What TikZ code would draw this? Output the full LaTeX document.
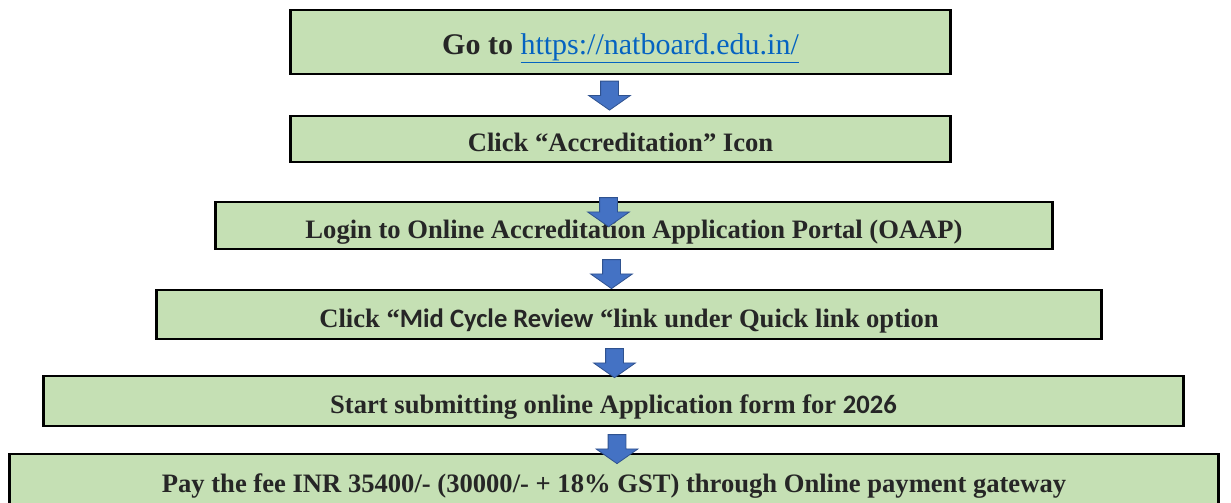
\documentclass[tikz,border=0pt]{standalone}
\usepackage{fontspec}
\setmainfont{Liberation Serif}
\newfontfamily\calib{Carlito}
\usetikzlibrary{shapes.arrows}
\definecolor{boxgreen}{HTML}{C5E0B4}
\definecolor{arrowblue}{HTML}{4472C4}
\definecolor{arrowedge}{HTML}{2F528F}
\definecolor{linkblue}{HTML}{0563C1}
\definecolor{ink}{HTML}{262626}

\begin{document}
\begin{tikzpicture}[x=1pt,y=-1pt,
    stepbox/.style ={rectangle, draw, line width=2.6pt, fill=boxgreen,
      text=ink, font=\fontsize{26.6}{30}\selectfont\bfseries, inner sep=0pt,
      text height=25.5pt, text depth=0pt},
    blockarrow/.style ={single arrow, draw=arrowedge, line width=0.8pt,
      fill=arrowblue, rotate=-90, inner xsep=0pt, inner ysep=8.5pt,
      minimum height=29pt, single arrow head extend=12pt,
      single arrow tip angle=110}]
   \useasboundingbox (0,0) rectangle (1231,503);

   \node[stepbox, minimum width=660, minimum height=64, font=\fontsize{30}{34}\selectfont\bfseries,
     text height=25pt] (go) at (620.5,42) {Go to \textcolor{linkblue}{\mdseries\underline{https://natboard.edu.in/}}};
   \node[stepbox, minimum width=660, minimum height=46] (icon)   at (620.5,139) {Click “Accreditation” Icon};
   \node[stepbox, minimum width=837, minimum height=47] (login)  at (634,225.5) {Login to Online Accreditation Application Portal (OAAP)};
   \node[stepbox, minimum width=945, minimum height=49] (review) at (629,314.5) {Click “{\calib Mid Cycle Review} “link under Quick link option};
   \node[stepbox, minimum width=1140, minimum height=50] (apply) at (613.5,401) {Start submitting online Application form for {\calib 2026}};
   \node[stepbox, minimum width=1209, minimum height=52] (pay)   at (614,480)   {Pay the fee INR 35400/- (30000/- + 18\% GST) through Online payment gateway};

   \node[blockarrow] (toicon)   at (609.5,92.5) {};
   \node[blockarrow] (tologin)  at (608.5,209)  {};
   \node[blockarrow] (toreview) at (611.5,271)  {};
   \node[blockarrow] (toapply)  at (614.5,360)  {};
   \node[blockarrow] (topay)    at (617,446)    {};
 \end{tikzpicture}
\end{document}
